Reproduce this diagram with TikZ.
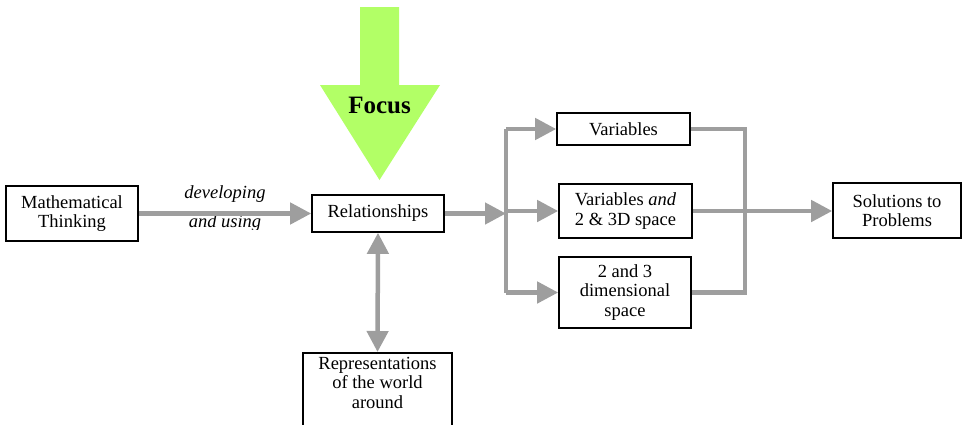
\documentclass[tikz,border=0pt]{standalone}
\usepackage{fontspec}
\setmainfont{LiberationSerif}[Extension=.ttf,UprightFont=*-Regular,BoldFont=*-Bold,ItalicFont=*-Italic,BoldItalicFont=*-BoldItalic]
\usetikzlibrary{arrows.meta}
\definecolor{focusgreen}{RGB}{178,255,102}
\definecolor{linegray}{RGB}{158,158,158}
\begin{document}
\begin{tikzpicture}[x=1pt,y=-1pt,
  box/.style={draw=black,line width=1.6pt,fill=white,align=center,inner sep=0pt,
    font=\fontsize{18.5}{19.5}\selectfont},
  conn/.style={draw=linegray,line width=4.5pt},
  arr/.style={conn,-{Triangle[length=21pt,width=21pt]}},
  darr/.style={conn,{Triangle[length=21pt,width=21pt]}-{Triangle[length=21pt,width=21pt]}},
  lbl/.style={font=\fontsize{18.5}{19.5}\selectfont\itshape,anchor=base,inner sep=0pt}
  ]
\useasboundingbox (0,0) rectangle (962,424);

% focus arrow
\path[fill=focusgreen] (360,7) -- (399,7) -- (399,85) -- (440,85) -- (379.5,180)
  -- (320,85) -- (360,85) -- cycle;
\node[font=\fontsize{25}{30}\selectfont\bfseries,inner sep=0pt] (focus) at (379.5,105) {Focus};

% boxes
\node[box,minimum width=132pt,minimum height=55pt] (math) at (72,213.5) {Mathematical\\Thinking};
\node[box,minimum width=132pt,minimum height=37pt] (rel) at (378,213.5) {Relationships};
\node[box,minimum width=133pt,minimum height=32pt] (var) at (623.5,129) {Variables};
\node[box,minimum width=133pt,minimum height=54pt] (varand) at (625.5,211) {Variables \textit{and}\\2 \& 3D space};
\node[box,minimum width=132pt,minimum height=71pt] (dim) at (625,292.5) {2 and 3\\dimensional\\space};
\node[box,minimum width=128pt,minimum height=55pt] (sol) at (897,210.5) {Solutions to\\Problems};
\node[box,minimum width=149pt,inner xsep=2pt,inner ysep=4pt,text depth=20pt,anchor=north] (rep) at (377.5,352) {Representations\\of the world\\around};

% labels
\node[lbl] (lab1) at (225,198) {developing};
\begin{scope}
\clip (150,200) rectangle (300,229);
\node[lbl] (lab2) at (225,227) {and using};
\end{scope}

% junction coordinates
\coordinate (L) at (506,212);
\coordinate (R) at (745,212);

% connectors
\draw[arr] (math.east) -- (rel.west);
\draw[arr] (rel.east) -- (rel.east -| L);
\draw[conn] (L |- var.west) -- (L |- dim.west);
\draw[arr] (L |- var.west) -- (var.west);
\draw[arr] (L |- varand.west) -- (varand.west);
\draw[arr] (L |- dim.west) -- (dim.west);
\draw[conn] (var.east) -- (var.east -| R) -- (dim.east -| R) -- (dim.east);
\draw[arr] (varand.east) -- (varand.east -| sol.west);
\draw[darr] (rel.south) -- (rep.north);
\end{tikzpicture}
\end{document}
